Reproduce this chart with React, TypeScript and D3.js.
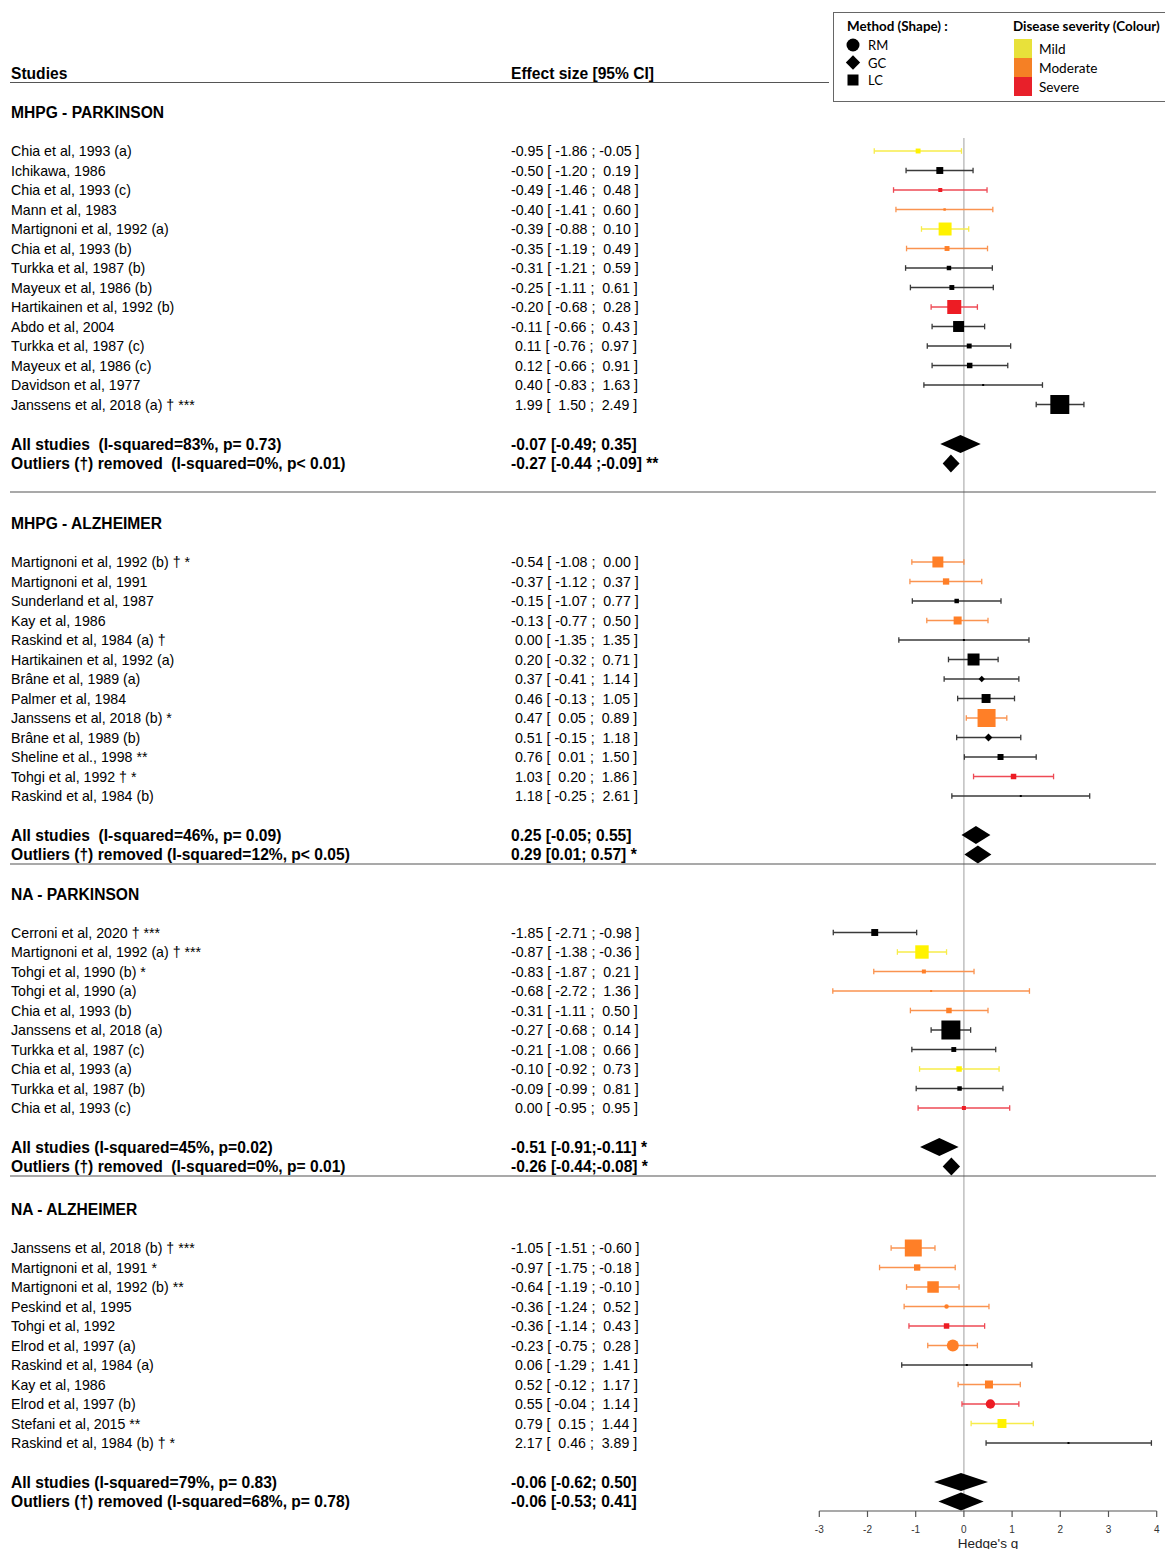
import React from "react";
import * as d3 from "d3";

// ---------- DATA ----------
type Shape = "square" | "circle" | "diamond";
type Sev = "none" | "mild" | "moderate" | "severe";

const sectionTitles = ["MHPG - PARKINSON", "MHPG - ALZHEIMER", "NA - PARKINSON", "NA - ALZHEIMER"];

// MHPG - PARKINSON
const s1Studies = ["Chia et al, 1993 (a)", "Ichikawa, 1986", "Chia et al, 1993 (c)", "Mann et al, 1983", "Martignoni et al, 1992 (a)", "Chia et al, 1993 (b)", "Turkka et al, 1987 (b)", "Mayeux et al, 1986 (b)", "Hartikainen et al, 1992 (b)", "Abdo et al, 2004", "Turkka et al, 1987 (c)", "Mayeux et al, 1986 (c)", "Davidson et al, 1977", "Janssens et al, 2018 (a) † ***"];
const s1Est = [-0.95, -0.5, -0.49, -0.4, -0.39, -0.35, -0.31, -0.25, -0.2, -0.11, 0.11, 0.12, 0.4, 1.99];
const s1Lo = [-1.86, -1.2, -1.46, -1.41, -0.88, -1.19, -1.21, -1.11, -0.68, -0.66, -0.76, -0.66, -0.83, 1.5];
const s1Hi = [-0.05, 0.19, 0.48, 0.6, 0.1, 0.49, 0.59, 0.61, 0.28, 0.43, 0.97, 0.91, 1.63, 2.49];
const s1Shape: Shape[] = ["square", "square", "square", "square", "square", "square", "square", "square", "square", "square", "square", "square", "square", "square"];
const s1Sev: Sev[] = ["mild", "none", "severe", "moderate", "mild", "moderate", "none", "none", "severe", "none", "none", "none", "none", "none"];
const s1Weight = [6, 12, 4, 1.5, 42, 6, 5, 6, 49, 30, 6, 7.5, 1, 90];

// MHPG - ALZHEIMER
const s2Studies = ["Martignoni et al, 1992 (b) † *", "Martignoni et al, 1991", "Sunderland et al, 1987", "Kay et al, 1986", "Raskind et al, 1984 (a) †", "Hartikainen et al, 1992 (a)", "Brâne et al, 1989 (a)", "Palmer et al, 1984", "Janssens et al, 2018 (b) *", "Brâne et al, 1989 (b)", "Sheline et al., 1998 **", "Tohgi et al, 1992 † *", "Raskind et al, 1984 (b)"];
const s2Est = [-0.54, -0.37, -0.15, -0.13, 0.0, 0.2, 0.37, 0.46, 0.47, 0.51, 0.76, 1.03, 1.18];
const s2Lo = [-1.08, -1.12, -1.07, -0.77, -1.35, -0.32, -0.41, -0.13, 0.05, -0.15, 0.01, 0.2, -0.25];
const s2Hi = [0.0, 0.37, 0.77, 0.5, 1.35, 0.71, 1.14, 1.05, 0.89, 1.18, 1.5, 1.86, 2.61];
const s2Shape: Shape[] = ["square", "square", "square", "square", "square", "square", "diamond", "square", "square", "diamond", "square", "square", "square"];
const s2Sev: Sev[] = ["moderate", "moderate", "none", "moderate", "none", "none", "none", "none", "moderate", "none", "none", "severe", "none"];
const s2Weight = [30, 10, 5, 16, 0.6, 36, 6, 20, 81, 9, 9, 7.5, 0.6];

// NA - PARKINSON
const s3Studies = ["Cerroni et al, 2020 † ***", "Martignoni et al, 1992 (a) † ***", "Tohgi et al, 1990 (b) *", "Tohgi et al, 1990 (a)", "Chia et al, 1993 (b)", "Janssens et al, 2018 (a)", "Turkka et al, 1987 (c)", "Chia et al, 1993 (a)", "Turkka et al, 1987 (b)", "Chia et al, 1993 (c)"];
const s3Est = [-1.85, -0.87, -0.83, -0.68, -0.31, -0.27, -0.21, -0.1, -0.09, 0.0];
const s3Lo = [-2.71, -1.38, -1.87, -2.72, -1.11, -0.68, -1.08, -0.92, -0.99, -0.95];
const s3Hi = [-0.98, -0.36, 0.21, 1.36, 0.5, 0.14, 0.66, 0.73, 0.81, 0.95];
const s3Shape: Shape[] = ["square", "square", "square", "square", "square", "square", "square", "square", "square", "square"];
const s3Sev: Sev[] = ["none", "mild", "moderate", "moderate", "moderate", "none", "none", "mild", "none", "severe"];
const s3Weight = [12, 45, 4, 0.5, 7.5, 90, 6, 7.5, 5, 4];

// NA - ALZHEIMER
const s4Studies = ["Janssens et al, 2018 (b) † ***", "Martignoni et al, 1991 *", "Martignoni et al, 1992 (b) **", "Peskind et al, 1995", "Tohgi et al, 1992", "Elrod et al, 1997 (a)", "Raskind et al, 1984 (a)", "Kay et al, 1986", "Elrod et al, 1997 (b)", "Stefani et al, 2015 **", "Raskind et al, 1984 (b) † *"];
const s4Est = [-1.05, -0.97, -0.64, -0.36, -0.36, -0.23, 0.06, 0.52, 0.55, 0.79, 2.17];
const s4Lo = [-1.51, -1.75, -1.19, -1.24, -1.14, -0.75, -1.29, -0.12, -0.04, 0.15, 0.46];
const s4Hi = [-0.6, -0.18, -0.1, 0.52, 0.43, 0.28, 1.41, 1.17, 1.14, 1.44, 3.89];
const s4Shape: Shape[] = ["square", "square", "square", "circle", "square", "circle", "square", "square", "circle", "square", "square"];
const s4Sev: Sev[] = ["moderate", "moderate", "moderate", "moderate", "severe", "moderate", "none", "moderate", "severe", "mild", "none"];
const s4Weight = [72, 10, 33, 5, 7.5, 36, 0.6, 16, 22, 20, 0.6];

// Summaries (All studies, Outliers removed) per section
const sumLabels = [
  ["All studies  (I-squared=83%, p= 0.73)", "Outliers (†) removed  (I-squared=0%, p< 0.01)"],
  ["All studies  (I-squared=46%, p= 0.09)", "Outliers (†) removed (I-squared=12%, p< 0.05)"],
  ["All studies (I-squared=45%, p=0.02)", "Outliers (†) removed  (I-squared=0%, p= 0.01)"],
  ["All studies (I-squared=79%, p= 0.83)", "Outliers (†) removed (I-squared=68%, p= 0.78)"],
];
const sumTexts = [
  ["-0.07 [-0.49; 0.35]", "-0.27 [-0.44 ;-0.09] **"],
  ["0.25 [-0.05; 0.55]", "0.29 [0.01; 0.57] *"],
  ["-0.51 [-0.91;-0.11] *", "-0.26 [-0.44;-0.08] *"],
  ["-0.06 [-0.62; 0.50]", "-0.06 [-0.53; 0.41]"],
];
const sumEst = [[-0.07, -0.27], [0.25, 0.29], [-0.51, -0.26], [-0.06, -0.06]];
const sumLo = [[-0.49, -0.44], [-0.05, 0.01], [-0.91, -0.44], [-0.62, -0.53]];
const sumHi = [[0.35, -0.09], [0.55, 0.57], [-0.11, -0.08], [0.5, 0.41]];

const axisTicks = [-3, -2, -1, 0, 1, 2, 3, 4];
const methodLegend = [{ label: "RM", shape: "circle" as Shape }, { label: "GC", shape: "diamond" as Shape }, { label: "LC", shape: "square" as Shape }];
const severityLegend: { label: string; sev: Sev }[] = [{ label: "Mild", sev: "mild" }, { label: "Moderate", sev: "moderate" }, { label: "Severe", sev: "severe" }];

// ---------- STYLE / LAYOUT ----------
const markerColor: Record<Sev, string> = { none: "#000000", mild: "#FFF200", moderate: "#FF7F27", severe: "#ED1C24" };
const lineColor: Record<Sev, string> = { none: "#3a3a3a", mild: "#F7EC4A", moderate: "#FA9350", severe: "#EE4A55" };
const legendColor: Record<Sev, string> = { none: "#000", mild: "#E8E13A", moderate: "#F58025", severe: "#E8202A" };

const sections = [
  { studies: s1Studies, est: s1Est, lo: s1Lo, hi: s1Hi, shape: s1Shape, sev: s1Sev, w: s1Weight },
  { studies: s2Studies, est: s2Est, lo: s2Lo, hi: s2Hi, shape: s2Shape, sev: s2Sev, w: s2Weight },
  { studies: s3Studies, est: s3Est, lo: s3Lo, hi: s3Hi, shape: s3Shape, sev: s3Sev, w: s3Weight },
  { studies: s4Studies, est: s4Est, lo: s4Lo, hi: s4Hi, shape: s4Shape, sev: s4Sev, w: s4Weight },
];
const layout = [
  { title: 112, first: 151, summary: 444, sep: 492 },
  { title: 523, first: 562, summary: 835, sep: 864 },
  { title: 894, first: 932.5, summary: 1147, sep: 1176 },
  { title: 1209, first: 1248, summary: 1482, sep: null as number | null },
];
const ROW = 19.5;
const W = 1165, H = 1549;
const AXIS_Y = 1511;
const BOLD = 15.6;
const REG = 14.2;

const fmt = (v: number) => (v < 0 ? v.toFixed(2) : " " + v.toFixed(2));
const effText = (e: number, l: number, h: number) => `${fmt(e)} [ ${fmt(l)} ; ${fmt(h)} ]`;

const FONT = "'Liberation Sans', Arial, sans-serif";
const LFONT = "Lato, 'Open Sans', sans-serif";

function Marker({ shape, cx, cy, s, fill }: { shape: Shape; cx: number; cy: number; s: number; fill: string }) {
  if (shape === "circle") return <circle cx={cx} cy={cy} r={s / 2} fill={fill} />;
  if (shape === "diamond") {
    const h = (s / 2) * 1.3;
    return <path d={`M${cx - h},${cy}L${cx},${cy - h}L${cx + h},${cy}L${cx},${cy + h}Z`} fill={fill} />;
  }
  return <rect x={cx - s / 2} y={cy - s / 2} width={s} height={s} fill={fill} />;
}

export default function App() {
  const x = d3.scaleLinear().domain([-3, 4]).range([819.3, 1156.7]);
  const size = d3.scaleSqrt().domain([0, 100]).range([0, 20]);

  return (
    <svg width={W} height={H} style={{ position: "absolute", left: 0, top: 0, background: "#fff" }} fontFamily={FONT}>
      {/* header */}
      <text x={11} y={73} dominantBaseline="central" fontWeight="bold" fontSize={BOLD}>Studies</text>
      <text x={511} y={73} dominantBaseline="central" fontWeight="bold" fontSize={BOLD}>Effect size [95% CI]</text>
      <line x1={10} x2={829} y1={82.5} y2={82.5} stroke="#555" strokeWidth={1.2} />

      {/* legend */}
      <g fontFamily={LFONT}>
        <rect x={833.5} y={12.5} width={340} height={89} fill="#fff" stroke="#666" strokeWidth={1} />
        <text x={847} y={26} dominantBaseline="central" fontWeight="bold" fontSize={13.4}>Method (Shape) :</text>
        <text x={1013} y={26} dominantBaseline="central" fontWeight="bold" fontSize={13.4}>Disease severity (Colour)</text>
        {methodLegend.map((m, i) => (
          <g key={m.label}>
            <Marker shape={m.shape} cx={853} cy={45 + i * 17.5} s={m.shape === "circle" ? 13 : 11} fill="#000" />
            <text x={868} y={45 + i * 17.5} dominantBaseline="central" fontSize={13}>{m.label}</text>
          </g>
        ))}
        {severityLegend.map((s, i) => (
          <g key={s.label}>
            <rect x={1014} y={39 + i * 19} width={18} height={19} fill={legendColor[s.sev]} />
            <text x={1039} y={48.5 + i * 19} dominantBaseline="central" fontSize={13.6}>{s.label}</text>
          </g>
        ))}
      </g>

      {/* zero line */}
      <line x1={x(0)} x2={x(0)} y1={138} y2={AXIS_Y} stroke="#b0b0b0" strokeWidth={1.2} />

      {sections.map((sec, si) => {
        const L = layout[si];
        const y = d3.scaleLinear().domain([0, 1]).range([L.first, L.first + ROW]);
        return (
          <g key={si}>
            <text x={11} y={L.title} dominantBaseline="central" fontWeight="bold" fontSize={BOLD}>{sectionTitles[si]}</text>
            {sec.studies.map((name, i) => {
              const cy = y(i);
              const s = Math.max(size(sec.w[i]), 2);
              const lc = lineColor[sec.sev[i]];
              return (
                <g key={i}>
                  <text x={11} y={cy} dominantBaseline="central" fontSize={REG}>{name}</text>
                  <text x={511} y={cy} dominantBaseline="central" fontSize={REG} style={{ whiteSpace: "pre" }}>{effText(sec.est[i], sec.lo[i], sec.hi[i])}</text>
                  <line x1={x(sec.lo[i])} x2={x(sec.hi[i])} y1={cy} y2={cy} stroke={lc} strokeWidth={1.3} />
                  <line x1={x(sec.lo[i])} x2={x(sec.lo[i])} y1={cy - 2.8} y2={cy + 2.8} stroke={lc} strokeWidth={1.3} />
                  <line x1={x(sec.hi[i])} x2={x(sec.hi[i])} y1={cy - 2.8} y2={cy + 2.8} stroke={lc} strokeWidth={1.3} />
                  <Marker shape={sec.shape[i]} cx={x(sec.est[i])} cy={cy} s={s} fill={markerColor[sec.sev[i]]} />
                </g>
              );
            })}
            {[0, 1].map((k) => {
              const cy = L.summary + k * ROW;
              const hh = 9;
              return (
                <g key={"s" + k}>
                  <text x={11} y={cy} dominantBaseline="central" fontWeight="bold" fontSize={BOLD} style={{ whiteSpace: "pre" }}>{sumLabels[si][k]}</text>
                  <text x={511} y={cy} dominantBaseline="central" fontWeight="bold" fontSize={BOLD} style={{ whiteSpace: "pre" }}>{sumTexts[si][k]}</text>
                  <path
                    d={`M${x(sumLo[si][k])},${cy}L${x(sumEst[si][k])},${cy - hh}L${x(sumHi[si][k])},${cy}L${x(sumEst[si][k])},${cy + hh}Z`}
                    fill="#000"
                  />
                </g>
              );
            })}
            {L.sep !== null && <line x1={10} x2={1156} y1={L.sep} y2={L.sep} stroke="#555" strokeWidth={1.2} />}
          </g>
        );
      })}

      {/* axis */}
      <g>
        <line x1={x(-3)} x2={x(4)} y1={AXIS_Y} y2={AXIS_Y} stroke="#555" strokeWidth={1.2} />
        {axisTicks.map((t) => (
          <g key={t}>
            <line x1={x(t)} x2={x(t)} y1={AXIS_Y} y2={AXIS_Y + 6} stroke="#555" strokeWidth={1.2} />
            <text x={x(t)} y={AXIS_Y + 18} textAnchor="middle" dominantBaseline="central" fontSize={10} fill="#333">{t}</text>
          </g>
        ))}
        <text x={x(0.5)} y={1543} textAnchor="middle" dominantBaseline="central" fontSize={13.5} fill="#222">Hedge's g</text>
      </g>
    </svg>
  );
}
